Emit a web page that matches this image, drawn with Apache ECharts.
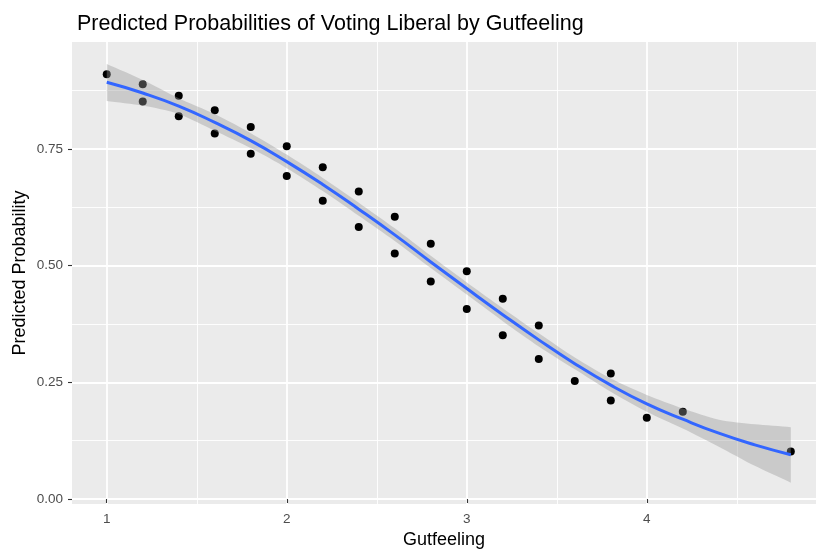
<!DOCTYPE html>
<html>
<head>
<meta charset="utf-8">
<title>Predicted Probabilities of Voting Liberal by Gutfeeling</title>
<script src="https://cdn.jsdelivr.net/npm/echarts@6/dist/echarts.min.js"></script>
<style>
  html, body { margin: 0; padding: 0; background: #ffffff; }
  #chart { width: 816px; height: 552px; }
</style>
</head>
<body>
<div id="chart"></div>
<script>
// Observed predicted probabilities by gutfeeling score
const pointX = [1.0, 1.2, 1.2, 1.4, 1.4, 1.6, 1.6, 1.8, 1.8, 2.0, 2.0, 2.2, 2.2, 2.4, 2.4,
                2.6, 2.6, 2.8, 2.8, 3.0, 3.0, 3.2, 3.2, 3.4, 3.4, 3.6, 3.8, 3.8, 4.0, 4.2, 4.8];
const pointY = [0.910, 0.889, 0.852, 0.864, 0.820, 0.833, 0.783, 0.797, 0.740, 0.756, 0.692,
                0.711, 0.639, 0.659, 0.583, 0.605, 0.526, 0.547, 0.466, 0.488, 0.407,
                0.429, 0.351, 0.372, 0.300, 0.253, 0.269, 0.211, 0.174, 0.187, 0.102];

// Smoothed logistic fit with its confidence band
const fitX     = [1.0, 1.2, 1.4, 1.6, 1.8, 2.0, 2.2, 2.4, 2.6, 2.8, 3.0, 3.2, 3.4, 3.6, 3.8, 4.0, 4.2, 4.4, 4.6, 4.8];
const fitY     = [0.893, 0.870, 0.842, 0.807, 0.768, 0.723, 0.674, 0.621, 0.566, 0.508, 0.451,
                  0.395, 0.341, 0.290, 0.244, 0.204, 0.171, 0.141, 0.116, 0.095];
const fitLower = [0.853, 0.843, 0.825, 0.789, 0.752, 0.709, 0.660, 0.607, 0.553, 0.495, 0.438,
                  0.381, 0.327, 0.278, 0.230, 0.187, 0.151, 0.112, 0.071, 0.035];
const fitUpper = [0.932, 0.898, 0.859, 0.825, 0.784, 0.738, 0.688, 0.635, 0.580, 0.521, 0.464,
                  0.409, 0.355, 0.303, 0.258, 0.223, 0.194, 0.170, 0.160, 0.154];

// Axis ticks
const xMajorTicks = [1, 2, 3, 4];
const xMinorTicks = [1.5, 2.5, 3.5, 4.5];
const yMajorTicks = [0, 0.25, 0.5, 0.75];
const yMinorTicks = [0.125, 0.375, 0.625, 0.875];

const FONT = '"Liberation Sans", Arial, Helvetica, sans-serif';
const X_MIN = 0.807, X_MAX = 4.94;
const Y_MIN = -0.0107, Y_MAX = 0.9793;

const scatterData = pointX.map((x, i) => [x, pointY[i]]);
const fitData = fitX.map((x, i) => [x, fitY[i]]);

const chart = echarts.init(document.getElementById('chart'), null, { renderer: 'canvas' });

// Confidence band: upper edge left to right, then lower edge back.
// End points are doubled so the smoothing keeps the two vertical ends straight.
function renderBand(params, api) {
  const upper = fitX.map((x, i) => api.coord([x, fitUpper[i]]));
  const lower = fitX.map((x, i) => api.coord([x, fitLower[i]])).reverse();
  const pts = [upper[0]].concat(upper, [upper[upper.length - 1]],
                                [lower[0]], lower, [lower[lower.length - 1]]);
  return {
    type: 'polygon',
    shape: { points: pts, smooth: 0.25 },
    style: { fill: 'rgba(153,153,153,0.4)', stroke: null }
  };
}

function majorAxis(extra) {
  return Object.assign({
    type: 'value',
    axisLine: { show: false },
    splitLine: { show: true, lineStyle: { color: '#FFFFFF', width: 1.8 } },
    nameTextStyle: { color: '#000000', fontFamily: FONT, fontSize: 18 }
  }, extra);
}

function minorAxis(extra) {
  return Object.assign({
    type: 'value',
    axisLine: { show: false },
    splitLine: { show: true, lineStyle: { color: '#FFFFFF', width: 0.9 } }
  }, extra);
}

chart.setOption({
  animation: false,
  backgroundColor: '#FFFFFF',
  title: {
    text: 'Predicted Probabilities of Voting Liberal by Gutfeeling',
    left: 72,
    top: 8,
    textStyle: { color: '#000000', fontFamily: FONT, fontSize: 21.5, fontWeight: 'normal' }
  },
  grid: {
    left: 72, right: 0, top: 42, bottom: 48,
    show: true, backgroundColor: '#EBEBEB', borderWidth: 0,
    containLabel: false,
    outerBoundsMode: 'none'
  },
  xAxis: [
    majorAxis({
      min: X_MIN, max: X_MAX,
      name: 'Gutfeeling', nameLocation: 'middle', nameGap: 27,
      nameMoveOverlap: false,
      axisTick: { show: true, length: 4, customValues: xMajorTicks, lineStyle: { color: '#333333', width: 1.1 } },
      axisLabel: { show: true, color: '#4D4D4D', fontFamily: FONT, fontSize: 13.5, margin: 8,
                   customValues: xMajorTicks, formatter: v => String(v) },
      z: 1
    }),
    minorAxis({
      min: X_MIN, max: X_MAX, position: 'bottom',
      axisTick: { show: false, customValues: xMinorTicks },
      axisLabel: { show: false, customValues: xMinorTicks },
      z: 0
    })
  ],
  yAxis: [
    majorAxis({
      min: Y_MIN, max: Y_MAX,
      name: 'Predicted Probability', nameLocation: 'middle', nameGap: 43,
      nameMoveOverlap: false,
      axisTick: { show: true, length: 4, customValues: yMajorTicks, lineStyle: { color: '#333333', width: 1.1 } },
      axisLabel: { show: true, color: '#4D4D4D', fontFamily: FONT, fontSize: 13.5, margin: 9,
                   customValues: yMajorTicks, formatter: v => v.toFixed(2) },
      z: 1
    }),
    minorAxis({
      min: Y_MIN, max: Y_MAX, position: 'left',
      axisTick: { show: false, customValues: yMinorTicks },
      axisLabel: { show: false, customValues: yMinorTicks },
      z: 0
    })
  ],
  series: [
    {
      name: 'Observed',
      type: 'scatter',
      xAxisIndex: 0, yAxisIndex: 0,
      data: scatterData,
      symbol: 'circle',
      symbolSize: 8,
      itemStyle: { color: '#000000', opacity: 1 },
      z: 2
    },
    {
      name: '95% CI',
      type: 'custom',
      xAxisIndex: 0, yAxisIndex: 0,
      renderItem: renderBand,
      data: [[fitX[0], fitY[0]]],
      silent: true,
      z: 3
    },
    {
      name: 'Fit',
      type: 'line',
      xAxisIndex: 0, yAxisIndex: 0,
      data: fitData,
      smooth: true,
      symbol: 'none',
      lineStyle: { color: '#3366FF', width: 3 },
      z: 4
    }
  ]
});
</script>
</body>
</html>
